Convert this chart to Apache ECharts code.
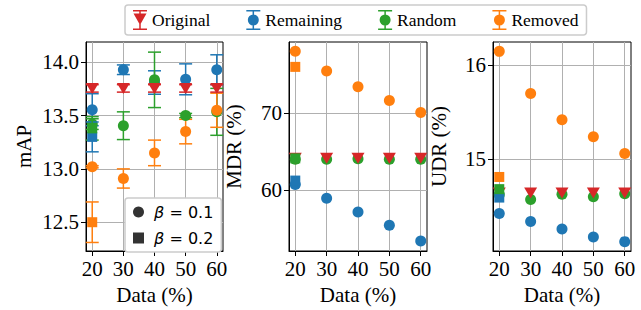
<!DOCTYPE html>
<html><head><meta charset="utf-8">
<script src="https://cdn.jsdelivr.net/npm/echarts@6/dist/echarts.min.js"></script>
<style>html,body{margin:0;padding:0;background:#fff}#c{width:641px;height:310px}</style>
</head><body><div id="c"></div>
<script>
// ---------- data ----------
const xData = [20, 30, 40, 50, 60];
const xTicks = [20, 30, 40, 50, 60];
const xSquare = [20];

// Panel 1: mAP (beta = 0.1 circles, Original triangles)
const mapOriginal = [13.755, 13.755, 13.755, 13.755, 13.755];
const mapOriginalErr = [0.035, 0.035, 0.035, 0.035, 0.035];
const mapRemaining = [13.555, 13.93, 13.81, 13.84, 13.93];
const mapRemainingErr = [0.15, 0.045, 0.11, 0.145, 0.14];
const mapRandom = [13.42, 13.405, 13.835, 13.50, 13.535];
const mapRandomErr = [0.05, 0.13, 0.26, 0.02, 0.22];
const mapRemoved = [13.02, 12.91, 13.15, 13.35, 13.55];
const mapRemovedErr = [0.01, 0.09, 0.12, 0.115, 0.16];
// beta = 0.2 squares (x = 20)
const mapRemainingSq = [13.30];
const mapRemainingSqErr = [0.14];
const mapRandomSq = [13.38];
const mapRandomSqErr = [0.11];
const mapRemovedSq = [12.50];
const mapRemovedSqErr = [0.19];
const mapTicks = [12.5, 13.0, 13.5, 14.0];

// Panel 2: MDR (%)
const mdrOriginal = [64.1, 64.1, 64.1, 64.1, 64.1];
const mdrRemaining = [60.7, 58.9, 57.1, 55.36, 53.3];
const mdrRandom = [64.0, 64.0, 64.05, 64.0, 64.0];
const mdrRemoved = [78.1, 75.5, 73.45, 71.66, 70.1];
const mdrRemainingSq = [61.2];
const mdrRandomSq = [64.1];
const mdrRemovedSq = [76.05];
const mdrTicks = [60, 70];

// Panel 3: UDR (%)
const udrOriginal = [14.64, 14.64, 14.64, 14.64, 14.64];
const udrRemaining = [14.42, 14.335, 14.255, 14.17, 14.12];
const udrRandom = [14.62, 14.57, 14.625, 14.60, 14.63];
const udrRemoved = [16.15, 15.70, 15.42, 15.24, 15.06];
const udrRemainingSq = [14.59];
const udrRandomSq = [14.68];
const udrRemovedSq = [14.81];
const udrTicks = [15, 16];

const legendNames = ['Original', 'Remaining', 'Random', 'Removed'];
const betaNames = ['β = 0.1', 'β = 0.2'];

// ---------- style ----------
const C = {Original: '#d62728', Remaining: '#1f77b4', Random: '#2ca02c', Removed: '#ff7f0e'};
const SERIF = 'Liberation Serif';
const FS = 21;

function pts(xs, ys, es) { return xs.map((x, i) => es ? [x, ys[i], es[i]] : [x, ys[i]]); }

function scatter(name, g, xs, ys, symbol, size, rotate, z) {
  return {
    type: 'scatter', name: name, xAxisIndex: g, yAxisIndex: g,
    data: pts(xs, ys), symbol: symbol, symbolSize: size, symbolRotate: rotate || 0,
    itemStyle: {color: C[name], opacity: 1}, z: z, silent: true, animation: false
  };
}
function errbar(name, g, xs, ys, es, z) {
  const color = C[name];
  return {
    type: 'custom', xAxisIndex: g, yAxisIndex: g, data: pts(xs, ys, es),
    encode: {x: 0, y: 1}, z: z, silent: true, animation: false, clip: false,
    renderItem: function (params, api) {
      const x = api.value(0), y = api.value(1), e = api.value(2);
      const t = api.coord([x, y + e]), b = api.coord([x, y - e]);
      const hw = 6.5, st = {stroke: color, lineWidth: 1.5};
      return {type: 'group', children: [
        {type: 'line', shape: {x1: t[0], y1: t[1], x2: b[0], y2: b[1]}, style: st},
        {type: 'line', shape: {x1: t[0] - hw, y1: t[1], x2: t[0] + hw, y2: t[1]}, style: st},
        {type: 'line', shape: {x1: b[0] - hw, y1: b[1], x2: b[0] + hw, y2: b[1]}, style: st}
      ]};
    }
  };
}

const grids = [
  {left: 86, top: 42, width: 137, height: 213},
  {left: 289, top: 42, width: 138, height: 213},
  {left: 493, top: 42, width: 138, height: 213}
].map(g => Object.assign(g, {show: true, borderColor: '#000', borderWidth: 1, backgroundColor: 'transparent'}));

const txt = {fontFamily: SERIF, fontSize: FS, color: '#000', fontWeight: 'normal'};

const xAxes = [0, 1, 2].map(i => ({
  type: 'value', gridIndex: i, min: 18, max: 62,
  axisLine: {show: true, onZero: false, lineStyle: {color: '#000', width: 1}},
  axisTick: {show: true, customValues: xTicks, inside: false, length: 5, lineStyle: {color: '#000', width: 1}},
  axisLabel: Object.assign({customValues: xTicks, margin: 7}, txt),
  splitLine: {show: true, lineStyle: {color: '#b0b0b0', width: 1}},
  name: 'Data (%)', nameLocation: 'middle', nameGap: 33, nameTextStyle: txt
}));

function yAxis(i, min, max, ticks, name, gap, fmt) {
  return {
    type: 'value', gridIndex: i, min: min, max: max,
    axisLine: {show: true, onZero: false, lineStyle: {color: '#000', width: 1}},
    axisTick: {show: true, customValues: ticks, inside: false, length: 5, lineStyle: {color: '#000', width: 1}},
    axisLabel: Object.assign({customValues: ticks, margin: 7, formatter: fmt}, txt),
    splitLine: {show: true, lineStyle: {color: '#b0b0b0', width: 1}},
    name: name, nameLocation: 'middle', nameGap: gap, nameRotate: 90, nameTextStyle: txt
  };
}
const yAxes = [
  yAxis(0, 12.23, 14.19, mapTicks, 'mAP', 52, v => v.toFixed(1)),
  yAxis(1, 52.0, 79.3, mdrTicks, 'MDR (%)', 45, v => String(v)),
  yAxis(2, 14.02, 16.25, udrTicks, 'UDR (%)', 44, v => String(v))
];

const CIRC = 11, SQ = 10, TRI = [13, 11];
const series = [];
// panel 1
series.push(errbar('Remaining', 0, xData, mapRemaining, mapRemainingErr, 2));
series.push(scatter('Remaining', 0, xData, mapRemaining, 'circle', CIRC, 0, 2));
series.push(errbar('Random', 0, xData, mapRandom, mapRandomErr, 3));
series.push(scatter('Random', 0, xData, mapRandom, 'circle', CIRC, 0, 3));
series.push(errbar('Removed', 0, xData, mapRemoved, mapRemovedErr, 3));
series.push(scatter('Removed', 0, xData, mapRemoved, 'circle', CIRC, 0, 3));
series.push(errbar('Original', 0, xData, mapOriginal, mapOriginalErr, 4));
series.push(scatter('Original', 0, xData, mapOriginal, 'triangle', TRI, 180, 4));
series.push(errbar('Remaining', 0, xSquare, mapRemainingSq, mapRemainingSqErr, 5));
series.push(scatter('Remaining', 0, xSquare, mapRemainingSq, 'rect', SQ, 0, 5));
series.push(errbar('Random', 0, xSquare, mapRandomSq, mapRandomSqErr, 5));
series.push(scatter('Random', 0, xSquare, mapRandomSq, 'rect', SQ, 0, 5));
series.push(errbar('Removed', 0, xSquare, mapRemovedSq, mapRemovedSqErr, 5));
series.push(scatter('Removed', 0, xSquare, mapRemovedSq, 'rect', SQ, 0, 5));
// panel 2
series.push(scatter('Remaining', 1, xData, mdrRemaining, 'circle', CIRC, 0, 2));
series.push(scatter('Random', 1, xData, mdrRandom, 'circle', CIRC, 0, 3));
series.push(scatter('Removed', 1, xData, mdrRemoved, 'circle', CIRC, 0, 3));
series.push(scatter('Original', 1, xData, mdrOriginal, 'triangle', TRI, 180, 4));
series.push(scatter('Remaining', 1, xSquare, mdrRemainingSq, 'rect', SQ, 0, 5));
series.push(scatter('Random', 1, xSquare, mdrRandomSq, 'rect', SQ, 0, 5));
series.push(scatter('Removed', 1, xSquare, mdrRemovedSq, 'rect', SQ, 0, 5));
// panel 3
series.push(scatter('Remaining', 2, xData, udrRemaining, 'circle', CIRC, 0, 2));
series.push(scatter('Random', 2, xData, udrRandom, 'circle', CIRC, 0, 3));
series.push(scatter('Removed', 2, xData, udrRemoved, 'circle', CIRC, 0, 3));
series.push(scatter('Original', 2, xData, udrOriginal, 'triangle', TRI, 180, 4));
series.push(scatter('Remaining', 2, xSquare, udrRemainingSq, 'rect', SQ, 0, 5));
series.push(scatter('Random', 2, xSquare, udrRandomSq, 'rect', SQ, 0, 5));
series.push(scatter('Removed', 2, xSquare, udrRemovedSq, 'rect', SQ, 0, 5));
// beta legend proxies
series.push({type: 'scatter', name: betaNames[0], xAxisIndex: 0, yAxisIndex: 0, data: [], itemStyle: {color: '#000'}});
series.push({type: 'scatter', name: betaNames[1], xAxisIndex: 0, yAxisIndex: 0, data: [], itemStyle: {color: '#000'}});

const BAR = 'M0,0 H14 V1.6 H0 Z M0,18.4 H14 V20 H0 Z M6.25,0 H7.75 V20 H6.25 Z ';
const ICON_CIRCLE = 'path://' + BAR + 'M1.5,10 A5.5,5.5 0 1,1 12.5,10 A5.5,5.5 0 1,1 1.5,10 Z';
const ICON_TRI = 'path://' + BAR + 'M0.5,3.5 L13.5,3.5 L7,15 Z';

const option = {
  animation: false,
  backgroundColor: '#fff',
  grid: grids,
  xAxis: xAxes,
  yAxis: yAxes,
  legend: [
    {
      left: 125, top: 5, orient: 'horizontal', selectedMode: false,
      padding: [5, 8], itemGap: 36, itemWidth: 14, itemHeight: 20,
      borderColor: '#cccccc', borderWidth: 1.5, borderRadius: 3, backgroundColor: '#fff',
      textStyle: {fontFamily: SERIF, fontSize: 17.5, color: '#000'},
      data: [
        {name: 'Original', icon: ICON_TRI},
        {name: 'Remaining', icon: ICON_CIRCLE},
        {name: 'Random', icon: ICON_CIRCLE},
        {name: 'Removed', icon: ICON_CIRCLE}
      ]
    },
    {
      left: 125, top: 198, orient: 'vertical', selectedMode: false,
      padding: [4, 8, 4, 8], itemGap: 6, itemWidth: 11, itemHeight: 11,
      borderColor: '#cccccc', borderWidth: 1.5, borderRadius: 3, backgroundColor: '#fff',
      textStyle: {fontFamily: 'DejaVu Sans', fontSize: 16, color: '#000', lineHeight: 20,
        rich: {b: {fontFamily: 'DejaVu Sans', fontStyle: 'italic', fontSize: 16, lineHeight: 20}, t: {fontFamily: 'DejaVu Sans', fontSize: 16, lineHeight: 20, padding: [0, 0, 0, 0]}}},
      formatter: function (name) { return '{t| }{b|β}{t| = ' + name.split('= ')[1] + '}'; },
      data: [
        {name: betaNames[0], icon: 'circle'},
        {name: betaNames[1], icon: 'rect'}
      ]
    }
  ],
  series: series
};
const chart = echarts.init(document.getElementById('c'), null, {renderer: 'svg', width: 641, height: 310});
chart.setOption(option);
</script>
</body></html>
